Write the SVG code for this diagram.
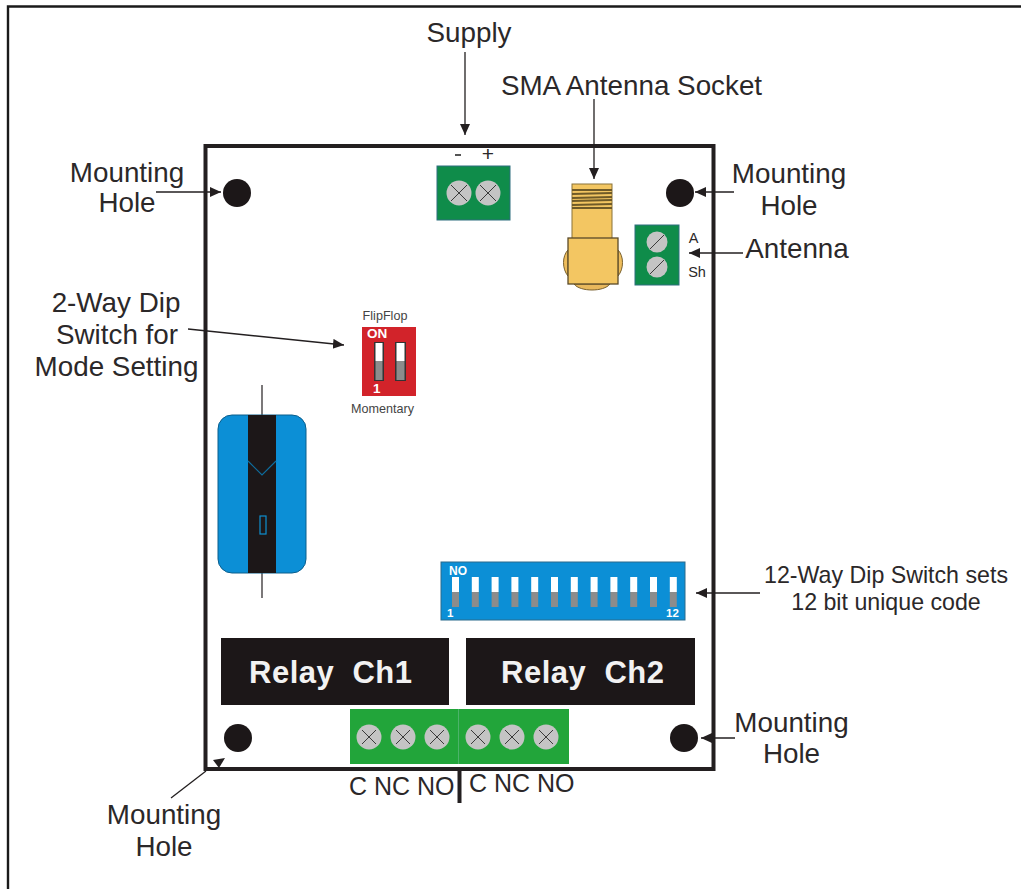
<svg xmlns="http://www.w3.org/2000/svg" width="1021" height="889" viewBox="0 0 1021 889">
<style>
text{font-family:"Liberation Sans",Arial,sans-serif;fill:#2b2829}
.lb{font-size:27.8px;text-anchor:middle}
.lb2{font-size:23.2px;text-anchor:middle}
.cn{fill:none;stroke:#231f20;stroke-width:1.3}
.hole{fill:#1c1718}
.screw{fill:#c4c4c4}
.x{stroke:#3a3a3a;stroke-width:1;fill:none}
.relay{fill:#1c1718}
.rt{font-size:31px;font-weight:bold;fill:#f2f2f2;letter-spacing:.5px}
.sm{font-size:12.6px;text-anchor:middle;fill:#444}
.wt{fill:#fff;font-weight:bold}
.w{fill:#fff}.g{fill:#8c8c8c}
</style>
<defs>
<marker id="a" markerUnits="userSpaceOnUse" markerWidth="12" markerHeight="11" refX="11" refY="5" orient="auto"><path d="M0 0L11 5L0 10Z" fill="#231f20"/></marker>
</defs>
<rect width="1021" height="889" fill="#fff"/>
<path d="M8 889V6.500H1021" fill="none" stroke="#1a1a1a" stroke-width="2.400"/>
<g id="board"><rect x="205.500" y="146" width="508" height="623" fill="#fff" stroke="#231f20" stroke-width="4"/></g>
<g id="connectors">
<path class="cn" d="M465 52V135" marker-end="url(#a)"/>
<path class="cn" d="M594 99V179" marker-end="url(#a)"/>
<path class="cn" d="M156 192H221" marker-end="url(#a)"/>
<path class="cn" d="M734 192H695" marker-end="url(#a)"/>
<path class="cn" d="M743 253H689" marker-end="url(#a)"/>
<path class="cn" d="M188 329L344 345" marker-end="url(#a)"/>
<path class="cn" d="M760 593H696" marker-end="url(#a)"/>
<path class="cn" d="M735 738H701" marker-end="url(#a)"/>
<path class="cn" d="M171 798L206 771"/>
<path d="M213 760L225 758L219 768Z" fill="#231f20"/>
<path d="M459.500 770V803" fill="none" stroke="#231f20" stroke-width="4"/>
</g>
<g id="supply-label"><text class="lb" x="469" y="42">Supply</text></g>
<g id="sma-label"><text class="lb" x="631.500" y="95">SMA Antenna Socket</text></g>
<g id="hole-tl-label"><text class="lb" x="127" y="182">Mounting</text><text class="lb" x="127" y="212">Hole</text></g>
<g id="hole-tr-label"><text class="lb" x="789" y="183">Mounting</text><text class="lb" x="789" y="215">Hole</text></g>
<g id="antenna-label"><text class="lb" x="797" y="258">Antenna</text></g>
<g id="dip2-label"><text class="lb" x="116" y="312">2-Way Dip</text><text class="lb" x="117" y="344">Switch for</text><text class="lb" x="116.500" y="376">Mode Setting</text></g>
<g id="dip12-label"><text class="lb2" x="886" y="583">12-Way Dip Switch sets</text><text class="lb2" x="886" y="610">12 bit unique code</text></g>
<g id="hole-br-label"><text class="lb" x="791.500" y="732">Mounting</text><text class="lb" x="791.500" y="763">Hole</text></g>
<g id="hole-bl-label"><text class="lb" x="164" y="824">Mounting</text><text class="lb" x="164" y="856">Hole</text></g>
<g id="hole-tl"><circle class="hole" cx="237" cy="193" r="14"/></g>
<g id="hole-tr"><circle class="hole" cx="680" cy="193" r="14"/></g>
<g id="hole-bl"><circle class="hole" cx="238" cy="738" r="14"/></g>
<g id="hole-br"><circle class="hole" cx="684" cy="738" r="14"/></g>
<g id="supply-terminal">
<rect x="437" y="166" width="73" height="54" fill="#0f8c4a" stroke="#2f6f7f"/>
<circle class="screw" cx="459" cy="193" r="12.500"/><circle class="screw" cx="488" cy="193" r="12.500"/>
<path class="x" d="M451 185L467 201M467 185L451 201M480 185L496 201M496 185L480 201"/>
<path d="M455 155H461" stroke="#555" stroke-width="2"/>
<text x="488" y="161" font-size="21" text-anchor="middle">+</text>
</g>
<g id="sma-socket">
<path d="M568 250c-6 6-6 19 0 26zM618 250c6 6 6 19 0 26z" fill="#eebd5c" stroke="#7a6230"/>
<path d="M574 284c6 8 30 8 36 0z" fill="#e8b85c" stroke="#7a6230"/>
<rect x="572" y="184" width="40" height="55" fill="#f3c662" stroke="#8a7338"/>
<path d="M572 190H612M572 194L612 193M572 198L612 197M572 201L612 200M572 205L612 204M572 208H612" stroke="#6f5a28" stroke-width="2" fill="none"/>
<rect x="568" y="238" width="50" height="46" fill="#f3c662" stroke="#5a4a28" stroke-width="1.300"/>
</g>
<g id="antenna-terminal">
<rect x="635" y="225" width="44" height="60" fill="#0f8c4a" stroke="#2f6f7f"/>
<circle class="screw" cx="657" cy="242" r="10.500"/><circle class="screw" cx="657" cy="267" r="10.500"/>
<path class="x" d="M650 249L664 235M650 274L664 260"/>
<text x="693.500" y="243" font-size="14.500" text-anchor="middle" fill="#444">A</text>
<text x="697" y="277" font-size="14.500" text-anchor="middle" fill="#444">Sh</text>
</g>
<g id="dip2">
<text class="sm" x="385" y="320">FlipFlop</text>
<rect x="362" y="327" width="54" height="69" fill="#d2232a"/>
<text class="wt" x="367" y="338" font-size="13.500">ON</text>
<rect x="374" y="342" width="10" height="39" fill="#333"/><rect x="375.500" y="343" width="7" height="18" class="w"/><rect x="375.500" y="361" width="7" height="19" class="g"/>
<rect x="395" y="342" width="11" height="39" fill="#333"/><rect x="396.500" y="343" width="8" height="18" class="w"/><rect x="396.500" y="361" width="8" height="19" class="g"/>
<text class="wt" x="373" y="393" font-size="13.500">1</text>
<text class="sm" x="382.500" y="413">Momentary</text>
</g>
<g id="capacitor">
<path d="M262 385V598" stroke="#231f20" stroke-width="1.200"/>
<rect x="218" y="415" width="88" height="158" rx="14" fill="#0c8fd6" stroke="#0b5e8c"/>
<rect x="248" y="415" width="28" height="158" fill="#1c1718"/>
<path d="M248 461L262 475L276 461" fill="none" stroke="#0e6d9e" stroke-width="1.200"/>
<rect x="260" y="516" width="6" height="18" fill="none" stroke="#0e8fd0" stroke-width="1.200"/>
</g>
<g id="dip12">
<rect x="441" y="562" width="244" height="58" fill="#0c8fd6" stroke="#2b6a8c"/>
<text class="wt" x="449" y="575" font-size="12">NO</text>
<text class="wt" x="447" y="617" font-size="11.500">1</text>
<text class="wt" x="666" y="617" font-size="11.500">12</text>
<g class="w"><rect x="452" y="577" width="7" height="15"/><rect x="471.800" y="577" width="7" height="15"/><rect x="491.600" y="577" width="7" height="15"/><rect x="511.400" y="577" width="7" height="15"/><rect x="531.200" y="577" width="7" height="15"/><rect x="551" y="577" width="7" height="15"/><rect x="570.800" y="577" width="7" height="15"/><rect x="590.600" y="577" width="7" height="15"/><rect x="610.400" y="577" width="7" height="15"/><rect x="630.200" y="577" width="7" height="15"/><rect x="650" y="577" width="7" height="15"/><rect x="669.800" y="577" width="7" height="15"/></g>
<g class="g"><rect x="452" y="592" width="7" height="15"/><rect x="471.800" y="592" width="7" height="15"/><rect x="491.600" y="592" width="7" height="15"/><rect x="511.400" y="592" width="7" height="15"/><rect x="531.200" y="592" width="7" height="15"/><rect x="551" y="592" width="7" height="15"/><rect x="570.800" y="592" width="7" height="15"/><rect x="590.600" y="592" width="7" height="15"/><rect x="610.400" y="592" width="7" height="15"/><rect x="630.200" y="592" width="7" height="15"/><rect x="650" y="592" width="7" height="15"/><rect x="669.800" y="592" width="7" height="15"/></g>
</g>
<g id="relay-ch1"><rect class="relay" x="221" y="638" width="228" height="67"/><text class="rt" x="249" y="683" xml:space="preserve">Relay  Ch1</text></g>
<g id="relay-ch2"><rect class="relay" x="466" y="638" width="229" height="67"/><text class="rt" x="501" y="683" xml:space="preserve">Relay  Ch2</text></g>
<g id="relay-terminal">
<rect x="350" y="709" width="219" height="55" fill="#22a53a"/>
<path d="M458.500 709V764" stroke="#4cb36a" stroke-width="1"/>
<g class="screw"><circle cx="369" cy="737" r="12.500"/><circle cx="403" cy="737" r="12.500"/><circle cx="437" cy="737" r="12.500"/><circle cx="478" cy="737" r="12.500"/><circle cx="512" cy="737" r="12.500"/><circle cx="546" cy="737" r="12.500"/></g>
<path class="x" d="M362 730L376 744M376 730L362 744M396 730L410 744M410 730L396 744M430 730L444 744M444 730L430 744M471 730L485 744M485 730L471 744M505 730L519 744M519 730L505 744M539 730L553 744M553 730L539 744"/>
</g>
<g id="relay-labels">
<text x="349" y="795" font-size="25">C NC NO</text>
<text x="469" y="792" font-size="25">C NC NO</text>
</g>
</svg>
